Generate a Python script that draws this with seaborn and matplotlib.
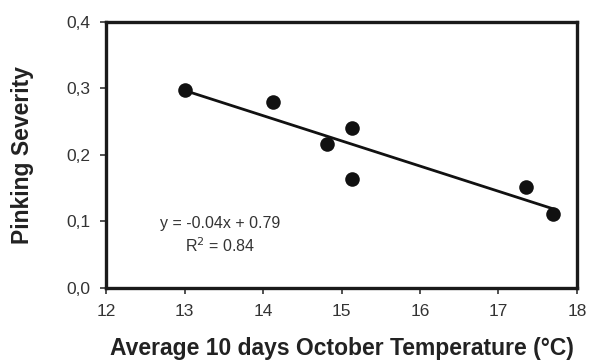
import numpy as np
import pandas as pd
import matplotlib
matplotlib.use("Agg")
import matplotlib.pyplot as plt
import seaborn as sns

temperature = [13.0, 14.13, 14.81, 15.14, 15.13, 17.35, 17.70]
severity = [0.298, 0.280, 0.217, 0.241, 0.164, 0.152, 0.111]
x_ticks = [12, 13, 14, 15, 16, 17, 18]
y_ticks = [0.0, 0.1, 0.2, 0.3, 0.4]
y_tick_labels = ["0,0", "0,1", "0,2", "0,3", "0,4"]

df = pd.DataFrame({"temp": temperature, "sev": severity})

sns.set_style("white")
plt.rcParams["font.family"] = ["Liberation Sans", "DejaVu Sans"]

fig = plt.figure(figsize=(5.89, 3.6), dpi=100)
ax = fig.add_axes([0.18, 0.2, 0.7996, 0.739])

sns.regplot(data=df, x="temp", y="sev", ci=None, ax=ax,
            scatter_kws={"s": 110, "color": "#111111", "alpha": 1, "linewidths": 0},
            line_kws={"color": "#111111", "lw": 2})

ax.set_xlim(12, 18)
ax.set_ylim(0, 0.4)
ax.set_xticks(x_ticks)
ax.set_yticks(y_ticks)
ax.set_yticklabels(y_tick_labels)
ax.tick_params(axis="both", direction="out", length=4, width=1.2, color="#333333",
               labelsize=12.5, labelcolor="#333333", left=True, bottom=True, pad=7.5)

for s in ax.spines.values():
    s.set_visible(True)
    s.set_linewidth(2.4)
    s.set_color("#1a1a1a")

ax.set_xlabel("Average 10 days October Temperature (°C)", fontsize=16.5,
              fontweight="bold", color="#222222")
ax.set_ylabel("Pinking Severity", fontsize=16.5, fontweight="bold",
              color="#222222")
ax.xaxis.set_label_coords(0.5, -0.183)
ax.yaxis.set_label_coords(-0.152, 0.5)

ax.text(13.45, 0.090, "y = -0.04x + 0.79", fontsize=11.5, color="#333333", ha="center")
ax.text(13.45, 0.054, "R$^2$ = 0.84", fontsize=11.5, color="#333333", ha="center")

fig.savefig("out.png", dpi=100)
